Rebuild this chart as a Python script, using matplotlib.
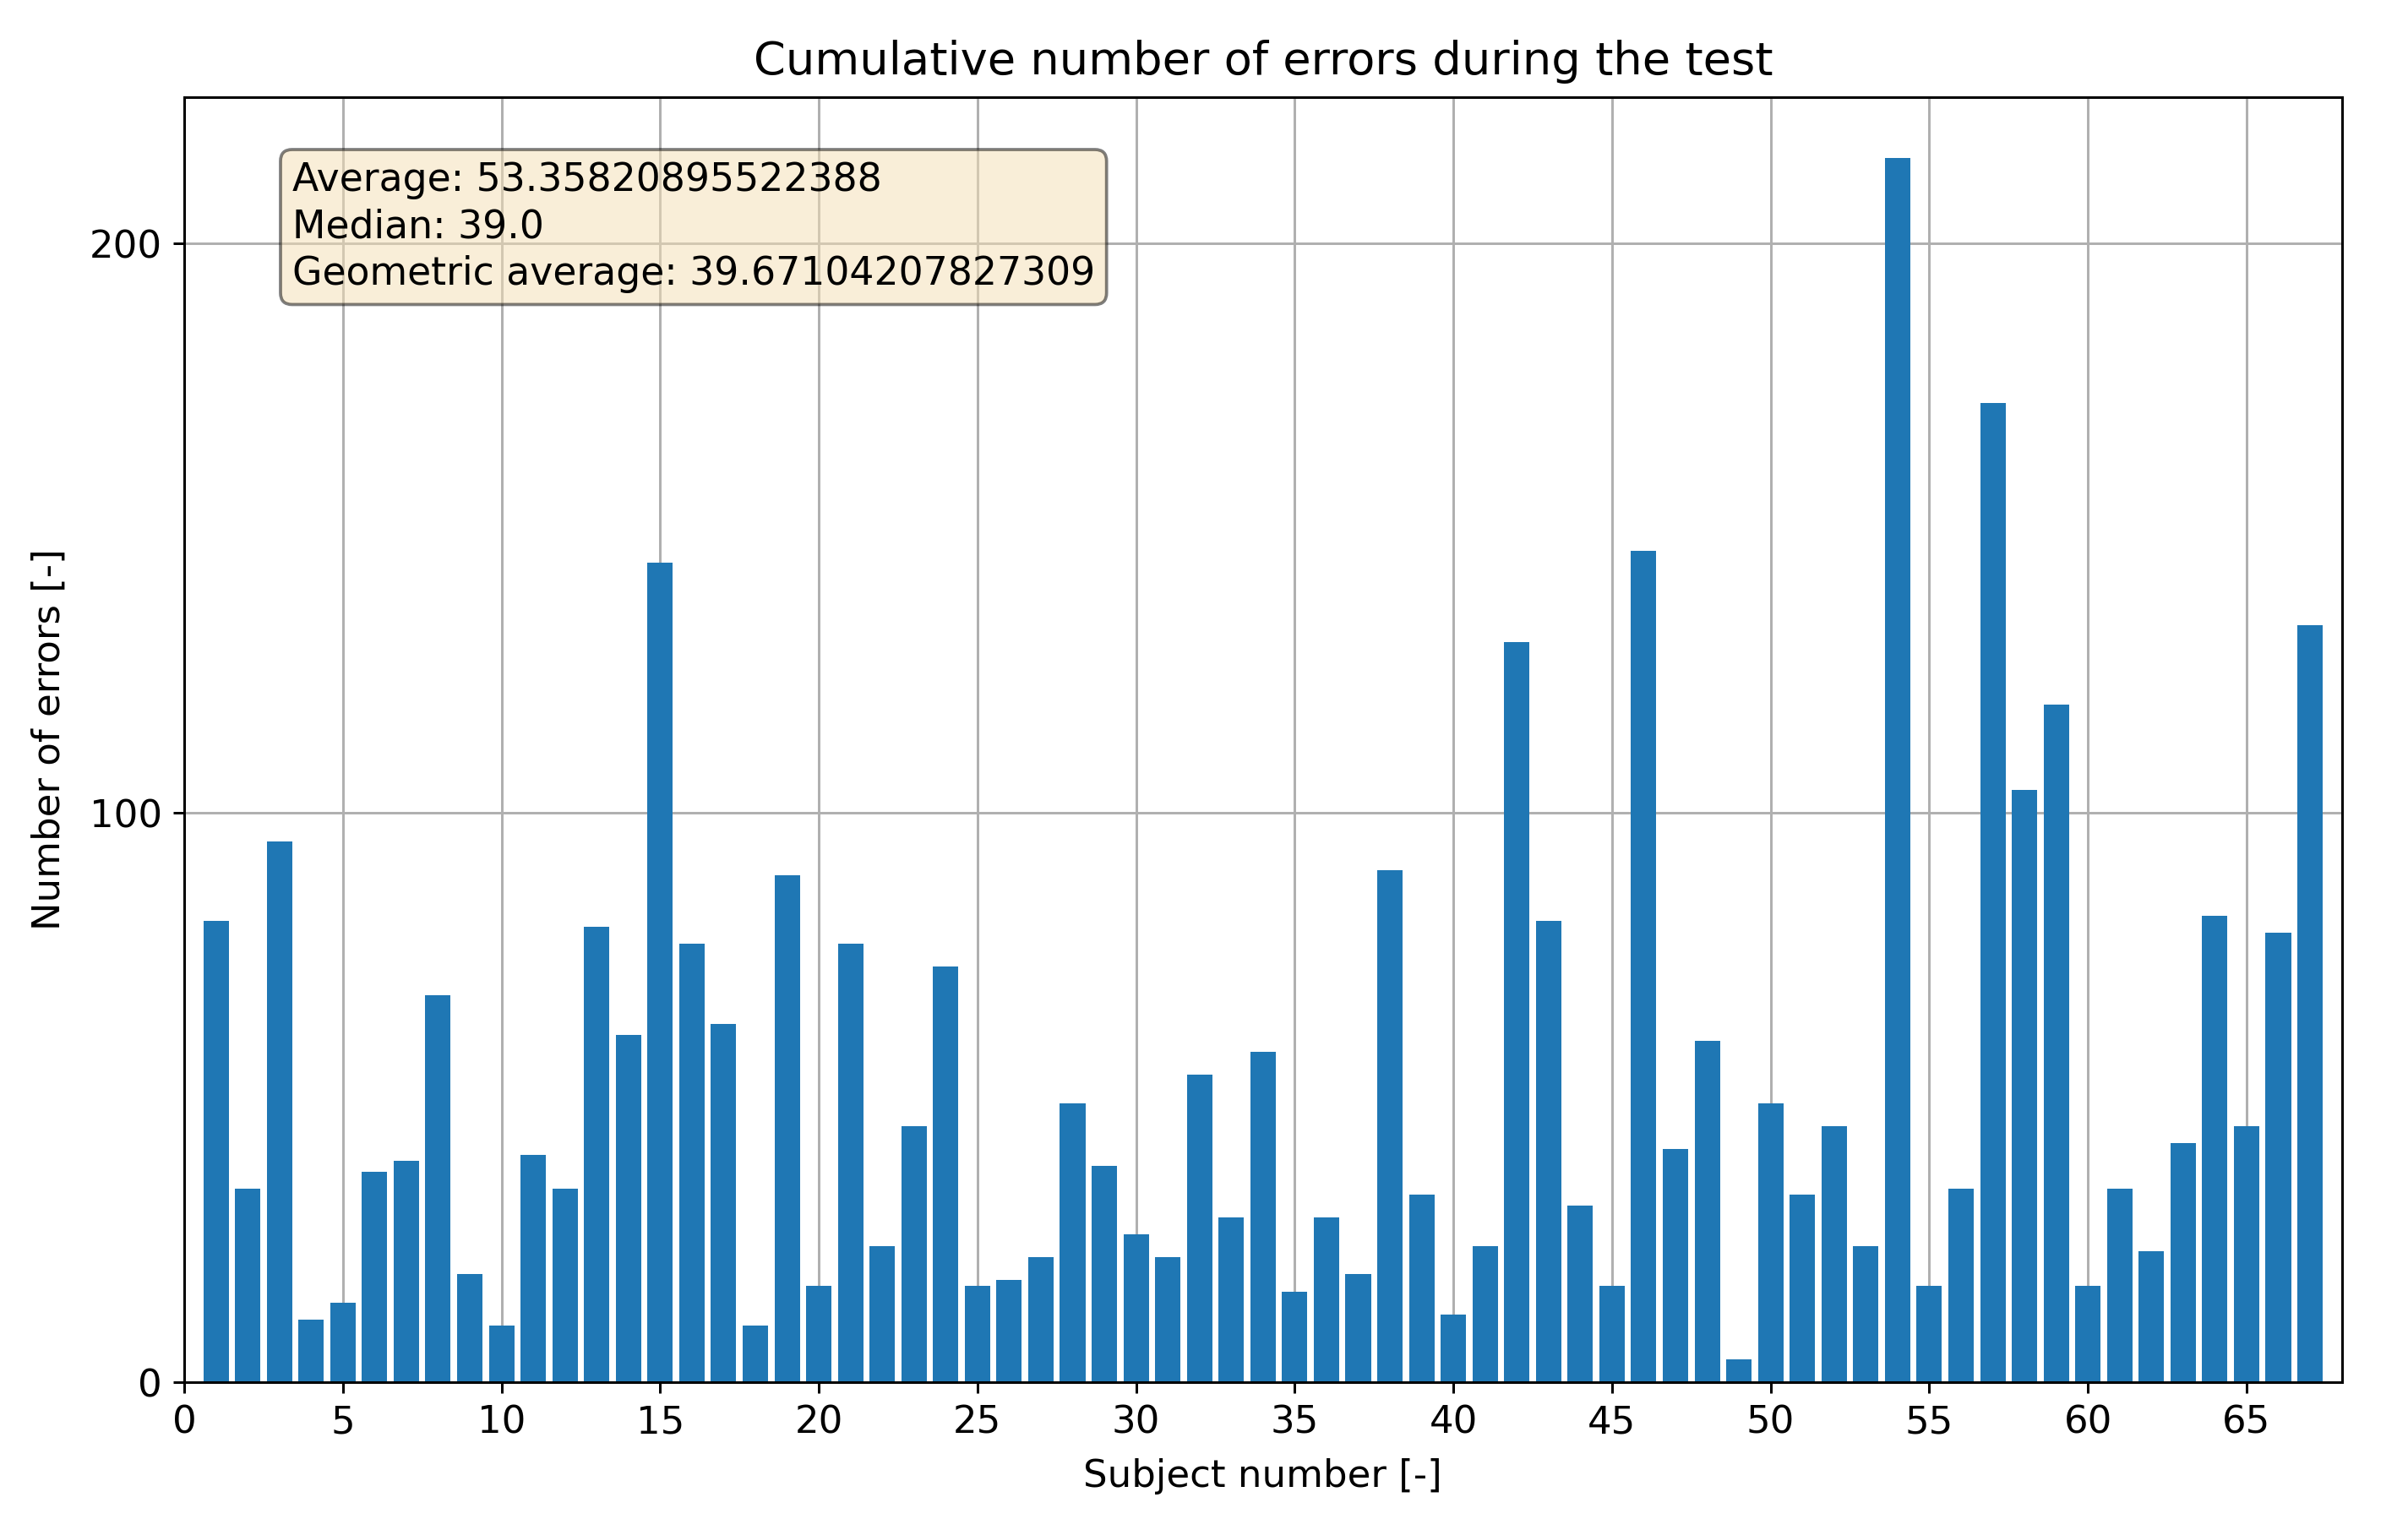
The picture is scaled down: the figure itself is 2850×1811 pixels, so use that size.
import matplotlib
matplotlib.use('Agg')
import matplotlib.pyplot as plt
import numpy as np

# number of errors per subject
subjects = np.arange(1, 68)
errors = [81, 34, 95, 11, 14, 37, 39, 68, 19, 10,
          40, 34, 80, 61, 144, 77, 63, 10, 89, 17,
          77, 24, 45, 73, 17, 18, 22, 49, 38, 26,
          22, 54, 29, 58, 16, 29, 19, 90, 33, 12,
          24, 130, 81, 31, 17, 146, 41, 60, 4, 49,
          33, 45, 24, 215, 17, 34, 172, 104, 119, 17,
          34, 23, 42, 82, 45, 79, 133]

avg_txt = '53.35820895522388'
med_txt = '39.0'
geo_txt = '39.67104207827309'

dpi = 270
fig = plt.figure(figsize=(2850 / dpi, 1811 / dpi), dpi=dpi)
ax = fig.add_axes([0.0765, 0.0964, 0.896, 0.8403])

ax.bar(subjects, errors, width=0.8, color='#1f77b4', zorder=2)
ax.set_xlim(0, 68)
ax.set_xticks(np.arange(0, 66, 5))
ax.set_yticks([0, 100, 200])
ax.grid(True, color='#b0b0b0', linewidth=0.8, zorder=0)
ax.set_axisbelow(True)
ax.tick_params(labelsize=12)

ax.set_title('Cumulative number of errors during the test', fontsize=14.5, pad=7)
ax.set_xlabel('Subject number [-]', fontsize=12, labelpad=5.5)
ax.set_ylabel('Number of errors [-]', fontsize=12, labelpad=7)

textstr = 'Average: ' + avg_txt + '\nMedian: ' + med_txt + '\nGeometric average: ' + geo_txt
props = dict(boxstyle='round', facecolor='wheat', alpha=0.5)
ax.text(0.05, 0.95, textstr, transform=ax.transAxes, fontsize=12.2,
        verticalalignment='top', linespacing=1.3, bbox=props, zorder=5)

fig.savefig('out.png', dpi=dpi)
